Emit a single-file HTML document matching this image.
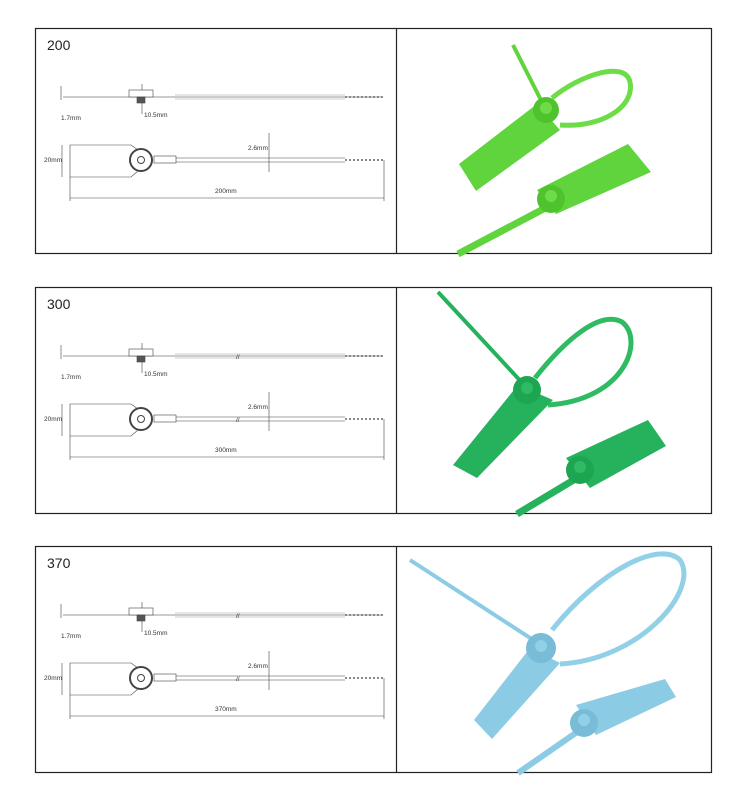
<!DOCTYPE html>
<html><head><meta charset="utf-8"><style>
html,body{margin:0;padding:0;background:#fff;width:750px;height:800px;overflow:hidden}
svg text{font-family:"Liberation Sans",sans-serif}
</style></head><body>
<svg width="750" height="800" viewBox="0 0 750 800" xmlns="http://www.w3.org/2000/svg">
<defs>
<g id="draw" stroke="#444" fill="none" stroke-width="0.6">
  <line x1="63" y1="97" x2="383" y2="97" stroke="#777" stroke-width="0.8"/>
  <line x1="175" y1="95" x2="345" y2="95" stroke="#999"/>
  <line x1="175" y1="99" x2="345" y2="99" stroke="#999"/>
  <line x1="345" y1="97" x2="384" y2="97" stroke-dasharray="2,2" stroke-width="1.3"/>
  <rect x="129" y="90" width="24" height="7" fill="#fff"/>
  <rect x="137" y="97" width="8" height="6" fill="#555"/>
  <line x1="142" y1="84" x2="142" y2="90"/>
  <line x1="142" y1="103" x2="142" y2="114"/>
  <line x1="61" y1="86" x2="61" y2="100"/>
  <path d="M70 145 H131 L138 150 V171 L131 177 H70 Z" fill="#fff"/>
  <circle cx="141" cy="160" r="11" fill="#fff" stroke-width="2"/>
  <circle cx="141" cy="160" r="3.5" stroke-width="1"/>
  <rect x="154" y="156" width="22" height="7" fill="#fff"/>
  <line x1="176" y1="158" x2="345" y2="158"/>
  <line x1="176" y1="162" x2="345" y2="162"/>
  <line x1="345" y1="160" x2="384" y2="160" stroke-dasharray="2,2" stroke-width="1.3"/>
  <line x1="62" y1="145" x2="62" y2="177"/>
  <line x1="269" y1="133" x2="269" y2="172"/>
  <line x1="70" y1="177" x2="70" y2="201"/>
  <line x1="384" y1="160" x2="384" y2="201"/>
  <line x1="70" y1="198" x2="384" y2="198"/>
</g>
</defs>

<g fill="none" stroke="#222" stroke-width="1.2">
<rect x="35.5" y="28.5" width="676" height="225"/>
<line x1="396.5" y1="28" x2="396.5" y2="254"/>
<rect x="35.5" y="287.5" width="676" height="226"/>
<line x1="396.5" y1="287" x2="396.5" y2="514"/>
<rect x="35.5" y="546.5" width="676" height="226"/>
<line x1="396.5" y1="546" x2="396.5" y2="773"/>
</g>

<g font-size="14" fill="#222">
<text x="47" y="50">200</text>
<text x="47" y="309">300</text>
<text x="47" y="568">370</text>
</g>

<g>
<use href="#draw"/>
<g font-size="6.5" fill="#333"><text x="61" y="120">1.7mm</text><text x="144" y="117">10.5mm</text><text x="44" y="162">20mm</text><text x="248" y="150">2.6mm</text><text x="215" y="193">200mm</text></g>
</g>
<g transform="translate(0,259)">
<use href="#draw"/>
<g font-size="6.5" fill="#333"><text x="61" y="120">1.7mm</text><text x="144" y="117">10.5mm</text><text x="44" y="162">20mm</text><text x="248" y="150">2.6mm</text><text x="215" y="193">300mm</text>
<text x="236" y="100">//</text><text x="236" y="163">//</text></g>
</g>
<g transform="translate(0,518)">
<use href="#draw"/>
<g font-size="6.5" fill="#333"><text x="61" y="120">1.7mm</text><text x="144" y="117">10.5mm</text><text x="44" y="162">20mm</text><text x="248" y="150">2.6mm</text><text x="215" y="193">370mm</text>
<text x="236" y="100">//</text><text x="236" y="163">//</text></g>
</g>

<g fill="#5fd43c" stroke="none">
<path d="M513 45 L545 108" stroke="#5fd43c" stroke-width="4"/>
<path d="M552 98 C580 75 625 60 630 82 C635 108 600 128 560 125" fill="none" stroke="#6ddc48" stroke-width="5"/>
<polygon points="459,164 476,191 560,130 537,104"/>
<circle cx="546" cy="110" r="13" fill="#4fc32e"/>
<circle cx="546" cy="108" r="6" fill="#6ddc48"/>
<polygon points="537,190 556,214 651,172 628,144"/>
<path d="M551 205 L458 254" stroke="#5fd43c" stroke-width="7"/>
<circle cx="551" cy="199" r="14" fill="#4fc32e"/>
<circle cx="551" cy="196" r="6" fill="#6ddc48"/>
</g>

<g fill="#26b25c" stroke="none">
<path d="M438 292 L527 388" stroke="#26b25c" stroke-width="4"/>
<path d="M535 378 C565 340 600 310 622 322 C645 340 625 400 548 405" fill="none" stroke="#2fbb62" stroke-width="5"/>
<polygon points="453,465 477,478 553,400 518,385"/>
<circle cx="527" cy="390" r="14" fill="#1ea552"/>
<circle cx="527" cy="388" r="6" fill="#2fbb62"/>
<polygon points="566,458 590,488 666,446 648,420"/>
<path d="M577 478 L517 514" stroke="#26b25c" stroke-width="7"/>
<circle cx="580" cy="470" r="14" fill="#1ea552"/>
<circle cx="580" cy="467" r="6" fill="#2fbb62"/>
</g>

<g fill="#8ccbe4" stroke="none">
<path d="M410 560 L541 645" stroke="#8ccbe4" stroke-width="4"/>
<path d="M552 630 C600 570 660 540 680 560 C700 590 640 660 560 664" fill="none" stroke="#92d0e8" stroke-width="5"/>
<polygon points="474,720 492,739 560,663 530,648"/>
<circle cx="541" cy="648" r="15" fill="#78bcd8"/>
<circle cx="541" cy="646" r="6" fill="#92d0e8"/>
<polygon points="576,705 596,735 676,697 665,679"/>
<path d="M580 730 L518 773" stroke="#8ccbe4" stroke-width="6"/>
<circle cx="584" cy="723" r="14" fill="#78bcd8"/>
<circle cx="584" cy="720" r="6" fill="#92d0e8"/>
</g>
</svg>
</body></html>
